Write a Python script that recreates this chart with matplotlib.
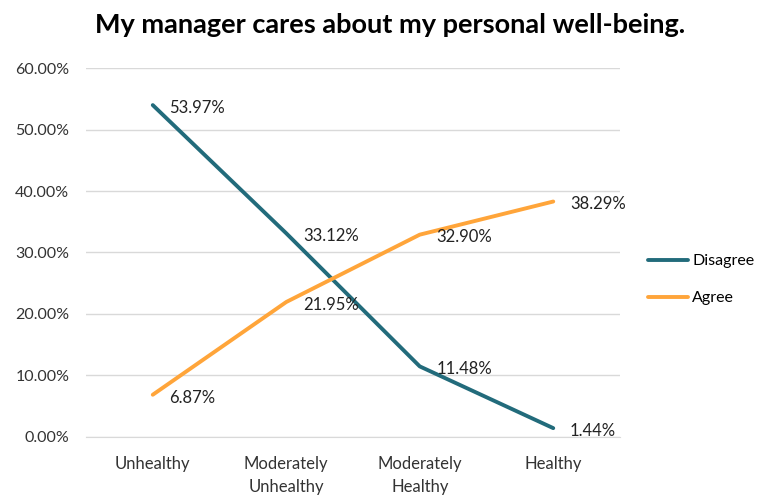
import matplotlib.pyplot as plt
import numpy as np

plt.rcParams['font.family'] = ['Lato', 'DejaVu Sans']

# Categories and values
categories = ['Unhealthy', 'Moderately\nUnhealthy', 'Moderately\nHealthy', 'Healthy']
disagree = [53.97, 33.12, 11.48, 1.44]
agree = [6.87, 21.95, 32.90, 38.29]
yticks = [0, 10, 20, 30, 40, 50, 60]

teal = '#226B7B'
orange = '#FFA53A'

fig = plt.figure(figsize=(7.64, 4.95), dpi=100)
ax = fig.add_axes([0.1126, 0.1172, 0.6989, 0.7454])

x = np.arange(len(categories))
ax.plot(x, disagree, color=teal, linewidth=2.8, label='Disagree', solid_capstyle='round')
ax.plot(x, agree, color=orange, linewidth=2.8, label='Agree', solid_capstyle='round')

# data labels to the right of each point
for series in (disagree, agree):
    for xi, v in zip(x, series):
        ax.annotate(f'{v:.2f}%', (xi, v), xytext=(12, -2), textcoords='offset points',
                    ha='left', va='center', fontsize=12, color='#222222')

ax.set_xlim(-0.5, len(categories) - 0.5)
ax.set_ylim(0, 60)
ax.set_yticks(yticks)
ax.set_yticklabels([f'{t:.2f}%' for t in yticks], fontsize=11.5, color='#333333')
ax.set_xticks(x)
ax.set_xticklabels(categories, fontsize=12, color='#333333', linespacing=1.5)
ax.tick_params(axis='x', length=0, pad=14)
ax.tick_params(axis='y', length=0, pad=12)
ax.grid(axis='y', color='#D9D9D9', linewidth=1)
ax.set_axisbelow(True)
for s in ['top', 'right', 'left']:
    ax.spines[s].set_visible(False)
ax.spines['bottom'].set_color('#D9D9D9')

fig.text(0.51, 0.95, 'My manager cares about my personal well-being.', ha='center', va='center',
         fontsize=19.5, fontweight='bold', color='black')

fig.legend(loc='center left', bbox_to_anchor=(0.83, 0.435), frameon=False, fontsize=11.5,
           handlelength=2.5, labelspacing=1.45, handletextpad=0.25)

fig.savefig('out.png', dpi=100)
